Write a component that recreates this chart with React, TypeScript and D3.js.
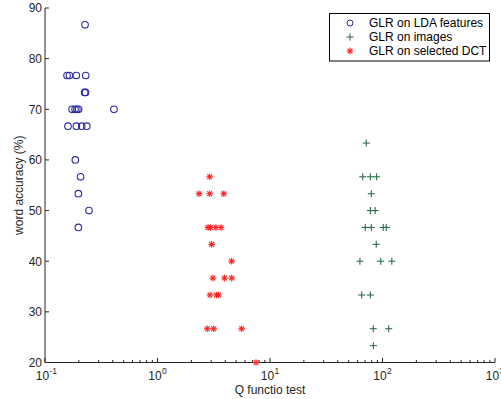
import React from "react";
import * as d3 from "d3";

const ldaX = [0.227, 0.157, 0.165, 0.19, 0.23, 0.225, 0.229, 0.174, 0.185, 0.192, 0.199, 0.41, 0.16, 0.19, 0.212, 0.235, 0.186, 0.207, 0.198, 0.246, 0.198];
const ldaY = [86.67, 76.67, 76.67, 76.67, 76.67, 73.33, 73.33, 70, 70, 70, 70, 70, 66.67, 66.67, 66.67, 66.67, 60, 56.67, 53.33, 50, 46.67];

const imgX = [71.8, 66.7, 78, 88.7, 79.5, 78, 86, 70.3, 79.5, 101.6, 108, 88, 63, 96.4, 121, 65.3, 78, 82.8, 113.5, 83];
const imgY = [63.33, 56.67, 56.67, 56.67, 53.33, 50, 50, 46.67, 46.67, 46.67, 46.67, 43.33, 40, 40, 40, 33.33, 33.33, 26.67, 26.67, 23.33];

const dctX = [2.91, 2.34, 2.91, 3.88, 2.81, 2.97, 3.31, 3.67, 3.03, 4.56, 3.11, 3.95, 4.57, 2.93, 3.35, 3.49, 2.77, 3.16, 5.6, 7.51];
const dctY = [56.67, 53.33, 53.33, 53.33, 46.67, 46.67, 46.67, 46.67, 43.33, 40, 36.67, 36.67, 36.67, 33.33, 33.33, 33.33, 26.67, 26.67, 26.67, 20];

const yTicks = [20, 30, 40, 50, 60, 70, 80, 90];
const xMajor = [0.1, 1, 10, 100, 1000];
const xExp = ["-1", "0", "1", "2", "3"];
const legendLabels = ["GLR on LDA features", "GLR on images", "GLR on selected DCT"];

const BLUE = "#2b2ba3";
const GREEN = "#2f6e4c";
const RED = "#ff1f1f";
const FONT = "Liberation Sans, Arial, Helvetica, sans-serif";

const Circle = ({ x, y }: { x: number; y: number }) => (
  <circle cx={x} cy={y} r={3.3} fill="none" stroke={BLUE} strokeWidth={1.1} />
);
const Plus = ({ x, y }: { x: number; y: number }) => (
  <g stroke={GREEN} strokeWidth={1.1}>
    <line x1={x - 3.5} x2={x + 3.5} y1={y} y2={y} />
    <line x1={x} x2={x} y1={y - 3.5} y2={y + 3.5} />
  </g>
);
const Star = ({ x, y }: { x: number; y: number }) => (
  <g stroke={RED} strokeWidth={1.1}>
    <line x1={x - 3.3} x2={x + 3.3} y1={y} y2={y} />
    <line x1={x} x2={x} y1={y - 3.3} y2={y + 3.3} />
    <line x1={x - 2.4} x2={x + 2.4} y1={y - 2.4} y2={y + 2.4} />
    <line x1={x - 2.4} x2={x + 2.4} y1={y + 2.4} y2={y - 2.4} />
  </g>
);

export default function App() {
  const W = 501, H = 399;
  const left = 45, right = 495, top = 8, bottom = 362.5;
  const x = d3.scaleLog().domain([0.1, 1000]).range([left, right]);
  const y = d3.scaleLinear().domain([20, 90]).range([bottom, top]);
  const minor = x.ticks().filter((t) => !xMajor.some((m) => Math.abs(m - t) / m < 1e-6));

  return (
    <svg width={W} height={H} style={{ position: "absolute", left: 0, top: 0, background: "#fff" }} fontFamily={FONT}>
      <rect width={W} height={H} fill="#fff" />
      <line x1={left} x2={left} y1={top} y2={bottom} stroke="#262626" strokeWidth={1} />
      <line x1={left} x2={right} y1={bottom} y2={bottom} stroke="#262626" strokeWidth={1} />
      {yTicks.map((t) => (
        <g key={"y" + t}>
          <line x1={left} x2={left + 4} y1={y(t)} y2={y(t)} stroke="#262626" />
          <text x={left - 3} y={y(t) + 4.3} fontSize={12} textAnchor="end" fill="#262626">{t}</text>
        </g>
      ))}
      {minor.map((t, i) => (
        <line key={"m" + i} x1={x(t)} x2={x(t)} y1={bottom} y2={bottom - 2.5} stroke="#262626" />
      ))}
      {xMajor.map((t, i) => (
        <g key={"x" + t}>
          <line x1={x(t)} x2={x(t)} y1={bottom} y2={bottom - 4.5} stroke="#262626" />
          <text x={x(t) - 2.5} y={379.5} fontSize={12} textAnchor="middle" fill="#262626">10</text>
          <text x={x(t) + 4.5} y={373.5} fontSize={8.5} textAnchor="start" fill="#262626">{xExp[i]}</text>
        </g>
      ))}
      <text x={270} y={393.5} fontSize={12} textAnchor="middle" fill="#262626">Q functio test</text>
      <text transform={`translate(22.5,${(top + bottom) / 2}) rotate(-90)`} fontSize={12} textAnchor="middle" fill="#262626">word accuracy (%)</text>

      {ldaX.map((v, i) => <Circle key={"c" + i} x={x(v)} y={y(ldaY[i])} />)}
      {imgX.map((v, i) => <Plus key={"p" + i} x={x(v)} y={y(imgY[i])} />)}
      {dctX.map((v, i) => <Star key={"s" + i} x={x(v)} y={y(dctY[i])} />)}

      <rect x={329.5} y={13.5} width={160} height={47.5} fill="#fff" stroke="#000" strokeWidth={1} />
      {legendLabels.map((l, i) => {
        const ly = 23 + i * 14;
        return (
          <g key={l}>
            {i === 0 && <circle cx={350} cy={ly} r={3} fill="none" stroke={BLUE} />}
            {i === 1 && <Plus x={350} y={ly} />}
            {i === 2 && <Star x={350} y={ly} />}
            <text x={369} y={ly + 4.3} fontSize={12} fill="#000">{l}</text>
          </g>
        );
      })}
    </svg>
  );
}
